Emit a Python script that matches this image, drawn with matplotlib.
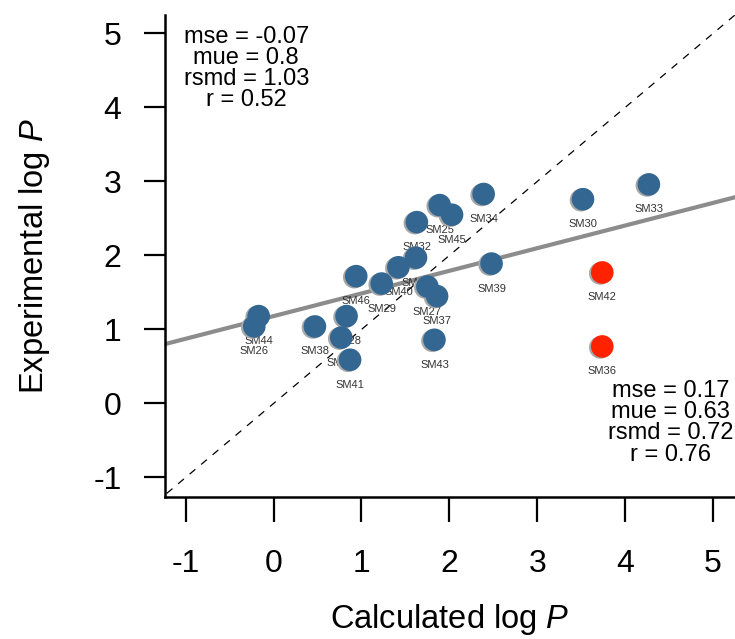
import numpy as np
import matplotlib
matplotlib.use("Agg")
import matplotlib.pyplot as plt
from matplotlib import transforms

plt.rcParams['font.family'] = ['Liberation Sans', 'DejaVu Sans']
plt.rcParams['mathtext.fontset'] = 'custom'
plt.rcParams['mathtext.rm'] = 'Liberation Sans'
plt.rcParams['mathtext.it'] = 'Liberation Sans:italic'

# calculated vs experimental log P
names = ["SM44", "SM26", "SM38", "SM28", "SM35", "SM41", "SM46", "SM29",
         "SM40", "SM31", "SM32", "SM25", "SM45", "SM34", "SM27", "SM37",
         "SM39", "SM43", "SM30", "SM33", "SM42", "SM36"]
calc = [-0.17, -0.22, 0.47, 0.83, 0.77, 0.87, 0.94, 1.23,
        1.42, 1.62, 1.63, 1.89, 2.03, 2.39, 1.75, 1.86,
        2.48, 1.83, 3.52, 4.27, 3.74, 3.74]
expt = [1.18, 1.04, 1.04, 1.18, 0.89, 0.59, 1.72, 1.62,
        1.84, 1.97, 2.45, 2.68, 2.55, 2.83, 1.58, 1.45,
        1.89, 0.86, 2.76, 2.96, 1.77, 0.77]
outlier = ["SM42", "SM36"]

fit_intercept = 1.18
fit_slope = 0.306

stats_all = "mse = -0.07\nmue = 0.8\nrsmd = 1.03\nr = 0.52"
stats_sub = "mse = 0.17\nmue = 0.63\nrsmd = 0.72\nr = 0.76"

ticks = [-1, 0, 1, 2, 3, 4, 5]

blue = "#336791"
red = "#ff2200"

fig = plt.figure(figsize=(7.35, 6.39), dpi=100)
ax = fig.add_axes([0.224, 0.2216, 0.776, 0.755])
ax.set_xlim(-1.24, 5.25)
ax.set_ylim(-1.27, 5.25)

# identity line and regression line
lim = np.array([-2, 6])
ax.plot(lim, lim, color="black", lw=0.9, ls=(0, (6, 6)), zorder=1)
ax.plot(lim, fit_intercept + fit_slope * lim, color="#8c8c8c", lw=3, zorder=1)

calc = np.array(calc)
expt = np.array(expt)
cols = [red if n in outlier else blue for n in names]

shadow = transforms.offset_copy(ax.transData, fig=fig, x=-2, y=-1, units='dots')
ax.scatter(calc, expt, s=265, color="#a8a8a8", edgecolors="none",
           transform=shadow, zorder=3)
ax.scatter(calc, expt, s=265, color=cols, edgecolors="none", zorder=4)

for n, x, y in zip(names, calc, expt):
    ax.annotate(n, (x, y), xytext=(0, -25), textcoords="offset pixels",
                ha="center", va="center", fontsize=8, color="#333333",
                zorder=2)

ax.text(0.143, 0.978, stats_all, transform=ax.transAxes, ha="center",
        va="top", multialignment="center", fontsize=17, linespacing=0.95)
ax.text(0.887, 0.243, stats_sub, transform=ax.transAxes, ha="center",
        va="top", multialignment="center", fontsize=17, linespacing=0.95)

ax.spines["top"].set_visible(False)
ax.spines["right"].set_visible(False)
for s in ["left", "bottom"]:
    ax.spines[s].set_linewidth(1.8)
ax.set_xticks(ticks)
ax.set_yticks(ticks)
ax.set_xticklabels([str(t) for t in ticks])
ax.set_yticklabels([str(t) for t in ticks])
ax.tick_params(axis="x", length=18, width=1.6, pad=19, labelsize=23)
ax.tick_params(axis="y", length=15, width=1.6, pad=16, labelsize=23)

ax.set_xlabel("Calculated log $\\it{P}$", fontsize=23.5, labelpad=17)
ax.set_ylabel("Experimental log $\\it{P}$", fontsize=23.5, labelpad=30)

fig.savefig("out.png", dpi=100)
